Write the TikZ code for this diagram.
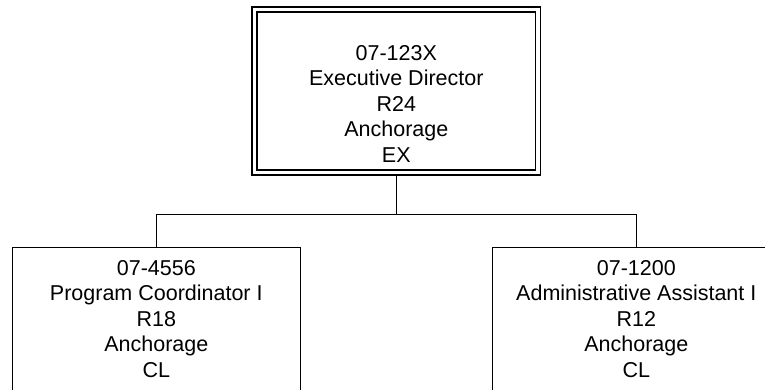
\documentclass[tikz,border=0pt]{standalone}
\usepackage{fontspec}
\setmainfont{Liberation Sans}
\usepackage{tikz}
\usetikzlibrary{positioning}
\tikzset{
  topbox/.style={draw, double, line width=1.5pt, double distance=3.5pt,
                 minimum width=283.7pt, minimum height=162.7pt,
                 inner sep=0pt, outer sep=3.25pt},
  subbox/.style={draw, line width=1.3pt, minimum width=288pt,
                 minimum height=170pt, inner sep=0pt},
  txt/.style={align=center, inner sep=0pt,
              font=\fontsize{21.5}{25.5}\selectfont},
  link/.style={line width=1.3pt},
}

\begin{document}
\begin{tikzpicture}[x=1pt, y=-1pt]
  \useasboundingbox (0,0) rectangle (765,389);
  \clip (0,0) rectangle (765,389);
  % boxes
  \node[topbox] (dir) at (396.3,91) {};
  \node[subbox] (pc) at (156.3,332.7) {};
  \node[subbox] (aa) at (636.3,332.7) {};
  % texts
  \node[txt, below=38.5pt of dir.north] (dirtxt)
    {07-123X\\Executive Director\\R24\\Anchorage\\EX};
  \node[txt, below=13pt of pc.north] (pctxt)
    {07-4556\\Program Coordinator I\\R18\\Anchorage\\CL};
  \node[txt, below=13pt of aa.north] (aatxt)
    {07-1200\\Administrative Assistant I\\R12\\Anchorage\\CL};
  % connectors
  \coordinate[below=39pt of dir.south] (bus);
  \draw[link] (dir.south) -- (bus);
  \draw[link] (bus) -| (pc.north);
  \draw[link] (bus) -| (aa.north);
\end{tikzpicture}
\end{document}
